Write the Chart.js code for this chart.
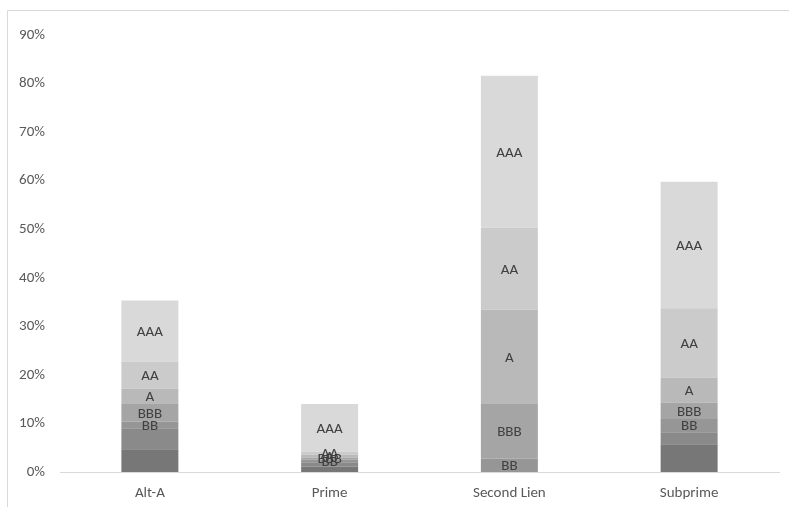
<!DOCTYPE html>
<html>
<head>
<meta charset="utf-8">
<script src="https://cdn.jsdelivr.net/npm/chart.js@4.4.0/dist/chart.umd.min.js"></script>
<style>
  html, body { margin: 0; padding: 0; background: #ffffff; }
  #wrap { width: 789px; height: 507px; position: relative; }
</style>
</head>
<body>
<div id="wrap"><canvas id="ratingChart" width="789" height="507"></canvas></div>
<script>
// Categories and tick labels
const categories = ['Alt-A', 'Prime', 'Second Lien', 'Subprime'];
const yTicks = [0, 10, 20, 30, 40, 50, 60, 70, 80, 90];

// Share of each rating class (percent), stacked bottom to top
const cccBelow = [4.7, 1.1, 0.0, 5.7];
const bRated   = [4.3, 0.9, 0.0, 2.5];
const bbRated  = [1.4, 0.5, 2.8, 2.7];
const bbbRated = [3.6, 0.5, 11.2, 3.4];
const aRated   = [3.2, 0.6, 19.4, 5.1];
const aaRated  = [5.5, 0.6, 16.9, 14.3];
const aaaRated = [12.6, 9.8, 31.3, 26.1];

const FONT = "Carlito, Lato, 'Open Sans', sans-serif";

// Draw series name in the middle of each segment
const segmentLabels = {
    id: 'segmentLabels',
    afterDatasetsDraw(chart) {
        const ctx = chart.ctx;
        ctx.save();
        ctx.font = '15px ' + FONT;
        ctx.fillStyle = '#404040';
        ctx.textAlign = 'center';
        ctx.textBaseline = 'middle';
        chart.data.datasets.forEach((ds, i) => {
            if (!ds.showLabel) return;
            const meta = chart.getDatasetMeta(i);
            meta.data.forEach((bar, j) => {
                if (!ds.data[j]) return;
                ctx.fillText(ds.label, bar.x, (bar.y + bar.base) / 2 + 1);
            });
        });
        ctx.restore();
    }
};

// Light frame (top and left edges visible)
const frame = {
    id: 'frame',
    beforeDraw(chart) {
        const ctx = chart.ctx;
        ctx.save();
        ctx.strokeStyle = '#d9d9d9';
        ctx.lineWidth = 1;
        ctx.beginPath();
        ctx.moveTo(7.5, 507);
        ctx.lineTo(7.5, 10.5);
        ctx.lineTo(789, 10.5);
        ctx.stroke();
        ctx.restore();
    }
};

const ctx = document.getElementById('ratingChart').getContext('2d');
new Chart(ctx, {
    type: 'bar',
    data: {
        labels: categories,
        datasets: [
            { label: 'CCC & below', data: cccBelow, backgroundColor: '#777777', showLabel: false },
            { label: 'B',   data: bRated,   backgroundColor: '#8a8a8a', showLabel: false },
            { label: 'BB',  data: bbRated,  backgroundColor: '#969696', showLabel: true },
            { label: 'BBB', data: bbbRated, backgroundColor: '#a5a5a5', showLabel: true },
            { label: 'A',   data: aRated,   backgroundColor: '#b9b9b9', showLabel: true },
            { label: 'AA',  data: aaRated,  backgroundColor: '#cbcbcb', showLabel: true },
            { label: 'AAA', data: aaaRated, backgroundColor: '#d9d9d9', showLabel: true }
        ]
    },
    options: {
        responsive: false,
        animation: false,
        layout: { padding: { top: 35, right: 10, bottom: 0, left: 0 } },
        datasets: { bar: { barPercentage: 1, categoryPercentage: 0.317, borderWidth: 0 } },
        plugins: {
            legend: { display: false },
            tooltip: { enabled: false }
        },
        scales: {
            x: {
                stacked: true,
                grid: { display: false, drawTicks: false },
                border: { display: true, color: '#d9d9d9', width: 1 },
                ticks: { color: '#595959', font: { family: FONT, size: 15 }, padding: 12 },
                afterFit(scale) { scale.height = 35; }
            },
            y: {
                stacked: true,
                min: 0,
                max: 90,
                afterBuildTicks(scale) { scale.ticks = yTicks.map(v => ({ value: v })); },
                grid: { display: false, drawTicks: false },
                border: { display: false },
                ticks: {
                    color: '#595959',
                    font: { family: FONT, size: 15 },
                    padding: 15,
                    callback: v => v + '%'
                },
                afterFit(scale) { scale.width = 60; }
            }
        }
    },
    plugins: [frame, segmentLabels]
});
</script>
</body>
</html>
